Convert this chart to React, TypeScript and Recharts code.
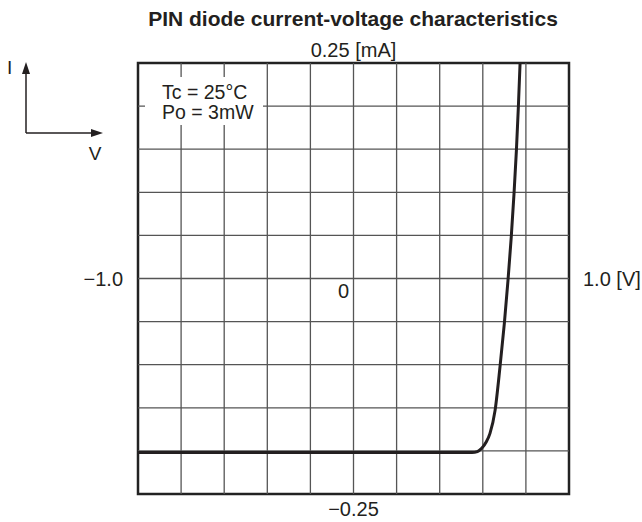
import React from 'react';
import { ComposedChart, Line, XAxis, YAxis, ReferenceLine, ReferenceArea, ReferenceDot } from 'recharts';

const voltage = [-1.0, -0.5, 0.0, 0.3, 0.5, 0.55, 0.575, 0.595, 0.615, 0.633, 0.657, 0.68, 0.7, 0.717, 0.732, 0.745, 0.756, 0.765, 0.773];
const current = [-0.202, -0.202, -0.202, -0.202, -0.202, -0.202, -0.2008, -0.197, -0.19, -0.18, -0.153, -0.102, -0.052, -0.002, 0.048, 0.099, 0.149, 0.199, 0.25];

const vGrid = [-0.8, -0.6, -0.4, -0.2, 0, 0.2, 0.4, 0.6, 0.8];
const iGrid = [-0.2, -0.15, -0.1, -0.05, 0, 0.05, 0.1, 0.15, 0.2];

const title = 'PIN diode current-voltage characteristics';
const condLines = ['Tc = 25°C', 'Po = 3mW'];

const data = voltage.map((v, i) => ({ v, i: current[i] }));

const FONT = '"Liberation Sans", Arial, Helvetica, sans-serif';
const INK = '#231f20';
const GRID = '#555';

export default function App() {
  return (
    <div style={{ position: 'absolute', left: 0, top: 0, width: 642, height: 522, background: '#fff', fontFamily: FONT }}>
      <ComposedChart width={642} height={522} data={data} margin={{ top: 63, left: 138, right: 73, bottom: 28 }}>
        <XAxis dataKey="v" type="number" domain={[-1, 1]} allowDataOverflow hide />
        <YAxis dataKey="i" type="number" domain={[-0.25, 0.25]} allowDataOverflow hide />
        {vGrid.map((v) => (
          <ReferenceLine key={'v' + v} x={v} stroke={GRID} strokeWidth={1.3} />
        ))}
        {iGrid.map((c) => (
          <ReferenceLine key={'i' + c} y={c} stroke={GRID} strokeWidth={1.3} />
        ))}
        <ReferenceArea x1={-1} x2={1} y1={-0.25} y2={0.25} fill="none" stroke="#222" strokeWidth={2.5} ifOverflow="visible" />
        <Line type="monotone" dataKey="i" stroke={INK} strokeWidth={3} dot={false} isAnimationActive={false} />
        <ReferenceDot x={0} y={0.25} r={0} stroke="none" fill="none" ifOverflow="visible"
          label={{ value: '0.25 [mA]', position: 'top', offset: 6, fontSize: 20, fill: INK, fontFamily: FONT }} />
        <ReferenceDot x={0} y={-0.25} r={0} stroke="none" fill="none" ifOverflow="visible"
          label={{ value: '−0.25', position: 'bottom', offset: 8, fontSize: 20, fill: INK, fontFamily: FONT }} />
        <ReferenceDot x={-1} y={0} r={0} stroke="none" fill="none" ifOverflow="visible"
          label={{ value: '−1.0', position: 'left', offset: 15, fontSize: 20, fill: INK, fontFamily: FONT }} />
        <ReferenceDot x={1} y={0} r={0} stroke="none" fill="none" ifOverflow="visible"
          label={{ value: '1.0 [V]', position: 'right', offset: 14, fontSize: 20, fill: INK, fontFamily: FONT }} />
        <ReferenceDot x={0} y={0} r={0} stroke="none" fill="none" ifOverflow="visible"
          label={{ value: '0', position: 'bottom', offset: 5, dx: -10, fontSize: 20, fill: INK, fontFamily: FONT }} />
      </ComposedChart>
      <svg width={642} height={522} style={{ position: 'absolute', left: 0, top: 0, pointerEvents: 'none' }}>
        <text x={353} y={26} textAnchor="middle" fontWeight="bold" fontSize={21} fill={INK} fontFamily={FONT}>{title}</text>
        <rect x={145} y={77} width={118} height={48} fill="#fff" />
        <text x={162} y={99} fontSize={19.5} fill={INK} fontFamily={FONT}>{condLines[0]}</text>
        <text x={162} y={119} fontSize={19.5} fill={INK} fontFamily={FONT}>{condLines[1]}</text>
        <text x={7} y={74} fontSize={19} fill={INK} fontFamily={FONT}>I</text>
        <text x={95} y={160} textAnchor="middle" fontSize={19} fill={INK} fontFamily={FONT}>V</text>
        <line x1={26} y1={133} x2={26} y2={72} stroke={INK} strokeWidth={1.5} />
        <polygon points="26,62 22,74 30,74" fill={INK} />
        <line x1={26} y1={133} x2={93} y2={133} stroke={INK} strokeWidth={1.5} />
        <polygon points="103,133 91,129 91,137" fill={INK} />
      </svg>
    </div>
  );
}
